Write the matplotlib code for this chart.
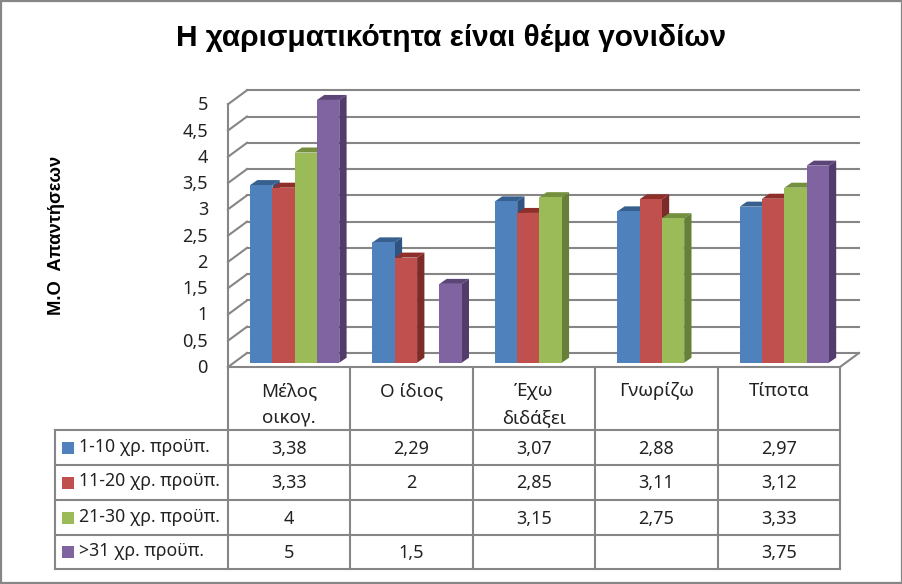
import numpy as np
import matplotlib
matplotlib.use("Agg")
import matplotlib.pyplot as plt
from matplotlib.patches import Polygon, Rectangle

plt.rcParams['font.family'] = ['Noto Sans', 'DejaVu Sans']

title = "Η χαρισματικότητα είναι θέμα γονιδίων"
ylabel = "Μ.Ο  Απαντήσεων"
categories = ["Μέλος\nοικογ.", "Ο ίδιος", "Έχω\nδιδάξει", "Γνωρίζω", "Τίποτα"]
series_names = ["1-10 χρ. προϋπ.", "11-20 χρ. προϋπ.", "21-30 χρ. προϋπ.", ">31 χρ. προϋπ."]
v1 = [3.38, 2.29, 3.07, 2.88, 2.97]
v2 = [3.33, 2, 2.85, 3.11, 3.12]
v3 = [4, None, 3.15, 2.75, 3.33]
v4 = [5, 1.5, None, None, 3.75]
series = [v1, v2, v3, v4]
yticks = [0, 0.5, 1, 1.5, 2, 2.5, 3, 3.5, 4, 4.5, 5]

front = ["#4F81BD", "#C0504D", "#9BBB59", "#8064A2"]
top = ["#37608F", "#8E2F2C", "#748F3E", "#5C4578"]
side = ["#2F5482", "#7C2B29", "#66803A", "#523C6C"]
grey = "#868686"

W, H = 903, 584
fig = plt.figure(figsize=(W / 100, H / 100), dpi=100, facecolor="white")

# bars live in the plane of the bar fronts
cat_w = 122.4
y_px = 52.55
left, y0 = 233.5, 362.7
ax = fig.add_axes([left / W, 1 - y0 / H, 5 * cat_w / W, 5 * y_px / H])
ax.set_xlim(0, 5)
ax.set_ylim(0, 5)
ax.axis("off")

ux, uy = 1 / cat_w, 1 / y_px
bar_w = 22.3 * ux
dx, dy = 7.3 * ux, 5 * uy      # bar depth
bx, by = 13.5 * ux, 9.7 * uy   # bars -> back wall
fx, fy = -5.5 * ux, -4.3 * uy  # bars -> front edge

for t in yticks:
    ax.plot([bx, 5 + bx], [t + by, t + by], color=grey, lw=1.5, clip_on=False, zorder=1)
    ax.plot([fx, bx], [t + fy, t + by], color=grey, lw=1.5, clip_on=False, zorder=1)
    ax.text(fx - 20 * ux, t + fy - 1 * uy, f"{t:g}".replace(".", ","), ha="right", va="center",
            fontsize=13, color="#222222", clip_on=False)
ax.plot([fx, fx], [0 + fy, 5 + fy], color=grey, lw=1.5, clip_on=False, zorder=1)
ax.plot([fx, 5 + fx], [fy, fy], color=grey, lw=1.5, clip_on=False, zorder=1)
ax.plot([5 + fx, 5 + bx], [fy, by], color=grey, lw=1.5, clip_on=False, zorder=1)

for c in range(len(categories)):
    for s, vals in enumerate(series):
        v = vals[c]
        if v is None:
            continue
        x = c + 0.5 - 2 * bar_w + s * bar_w
        z = 3 + c * 10 + s
        ax.add_patch(Polygon([(x, v), (x + bar_w, v), (x + bar_w + dx, v + dy), (x + dx, v + dy)],
                             fc=top[s], ec="none", clip_on=False, zorder=z))
        ax.add_patch(Polygon([(x + bar_w, 0), (x + bar_w + dx, dy), (x + bar_w + dx, v + dy), (x + bar_w, v)],
                             fc=side[s], ec="none", clip_on=False, zorder=z))
        ax.bar(x, v, width=bar_w, align="edge", color=front[s], clip_on=False, zorder=z + 0.5)

# table and frame in pixel coordinates
ov = fig.add_axes([0, 0, 1, 1], facecolor="none")
ov.set_xlim(0, W)
ov.set_ylim(H, 0)
ov.axis("off")

ov.add_patch(Rectangle((1, 1), W - 2, H - 2.5, fc="none", ec=grey, lw=1.6))
ov.text(451, 38, title, ha="center", va="center", fontsize=21.5, fontweight="bold",
        family="Liberation Sans", color="black")
ov.text(57, 235, ylabel, rotation=90, ha="center", va="center", fontsize=13.2, fontweight="bold",
        family="Liberation Sans", color="black")

t_left, t_x0, t_top = 55, 228, 367
rows = [430, 465, 500, 535, 569]
cols = [t_x0 + i * cat_w for i in range(6)]
for x in cols:
    ov.plot([x, x], [t_top, rows[-1]], color=grey, lw=1.5)
ov.plot([t_left, t_left], [rows[0], rows[-1]], color=grey, lw=1.5)
for r in rows:
    ov.plot([t_left, cols[-1]], [r, r], color=grey, lw=1.5)

for c, name in enumerate(categories):
    ov.text(cols[c] + cat_w / 2, 382.5, name, ha="center", va="top", fontsize=13.5, color="#222222", linespacing=1.6)

for s, (name, vals) in enumerate(zip(series_names, series)):
    yc = (rows[s] + rows[s + 1]) / 2
    ov.add_patch(Rectangle((62, yc - 6), 12, 12, fc=front[s], ec="none"))
    ov.text(79, yc - 1, name, ha="left", va="center", fontsize=12.7, color="#222222")
    for c, v in enumerate(vals):
        if v is not None:
            ov.text(cols[c] + cat_w / 2, yc + 1, f"{v:g}".replace(".", ","), ha="center", va="center",
                    fontsize=13, color="#222222")

fig.savefig("out.png", dpi=100)
